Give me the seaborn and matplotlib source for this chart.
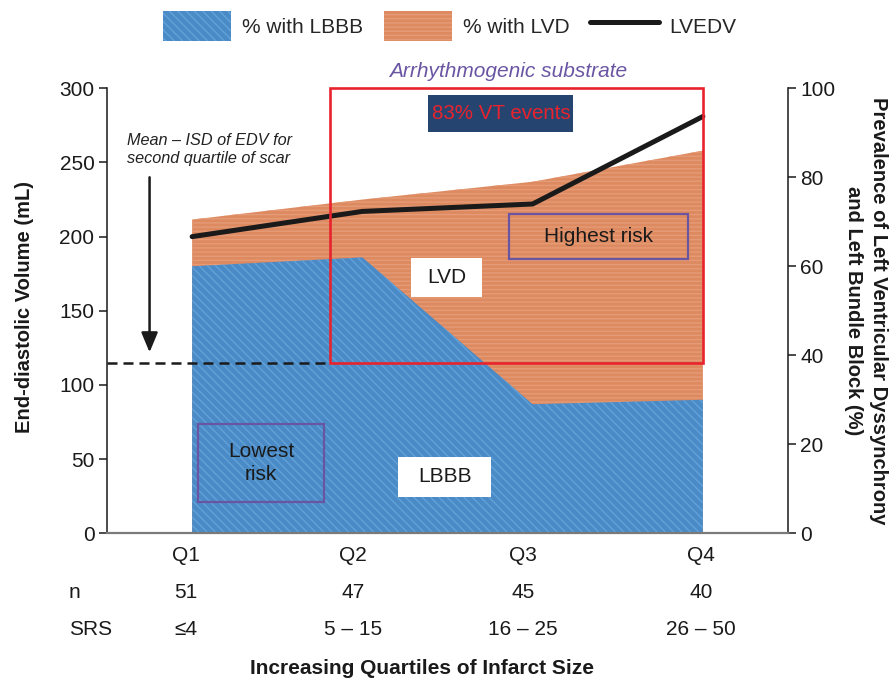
import numpy as np
import pandas as pd
import matplotlib
matplotlib.use("Agg")
import matplotlib.pyplot as plt
import matplotlib.transforms as mtransforms
from matplotlib.patches import Rectangle, Patch
from matplotlib.lines import Line2D
import seaborn as sns

# ---- data ----
quartiles = ["Q1", "Q2", "Q3", "Q4"]
n_patients = ["51", "47", "45", "40"]
srs_ranges = ["\u22644", "5 \u2013 15", "16 \u2013 25", "26 \u2013 50"]
lbbb_pct = [60, 62, 29, 30]          # % with LBBB (right axis)
lvd_pct = [70.5, 75, 79, 86]         # % with LVD (right axis)
lvedv_ml = [200, 217, 222, 281]      # LVEDV (left axis)
edv_threshold = 115                  # mean - 1SD of EDV, second quartile of scar
vt_events_pct = 83

# ---- style ----
sns.set_theme(style="white")
plt.rcParams["font.family"] = ["Liberation Sans", "DejaVu Sans"]
plt.rcParams["hatch.linewidth"] = 1.0

BLUE = "#4a8bc7"
BLUE_HATCH = "#62a2d9"
ORANGE = "#de8a60"
ORANGE_HATCH = "#e59b77"
RED = "#e8232d"
PURPLE = "#6a55a3"
NAVY = "#254470"
INK = "#1a1a1a"

df = pd.DataFrame({
    "x": np.arange(len(quartiles)),
    "LVEDV": lvedv_ml,
    "LBBB": lbbb_pct,
    "LVD": lvd_pct,
})

fig = plt.figure(figsize=(8.93, 6.83), dpi=100)
ax = fig.add_axes([107 / 893, 1 - 533.3 / 683, (788 - 107) / 893, 445 / 683])
ax2 = ax.twinx()

# prevalence areas on the right-hand axis
ax2.fill_between(df["x"], 0, df["LVD"], facecolor=ORANGE, edgecolor=ORANGE_HATCH,
                 hatch="----", linewidth=0)
ax2.fill_between(df["x"], 0, df["LBBB"], facecolor=BLUE, edgecolor=BLUE_HATCH,
                 hatch="\\\\\\\\", linewidth=0)
ax2.set_ylim(0, 100)

# volume line on the left-hand axis, drawn above the areas
ax.set_zorder(ax2.get_zorder() + 1)
ax.patch.set_visible(False)
sns.lineplot(data=df, x="x", y="LVEDV", ax=ax, color=INK, linewidth=3.6,
             legend=False, solid_joinstyle="miter")
ax.set_xlim(-0.5, 3.5)
ax.set_ylim(0, 300)
ax.set_xlabel("")
ax.set_ylabel("")
ax.set_xticks([])
ax.set_yticks([0, 50, 100, 150, 200, 250, 300])
ax2.set_yticks([0, 20, 40, 60, 80, 100])

for s in ["top", "right"]:
    ax.spines[s].set_visible(False)
ax.spines["left"].set_color(INK)
ax.spines["left"].set_linewidth(1.1)
ax.spines["bottom"].set_color("#7a7a7a")
ax.spines["bottom"].set_linewidth(1.6)
for s in ["top", "left", "bottom"]:
    ax2.spines[s].set_visible(False)
ax2.spines["right"].set_color(INK)
ax2.spines["right"].set_linewidth(1.1)

ax.tick_params(axis="y", left=True, direction="out", length=6, width=1.1,
               labelsize=15, pad=3, colors=INK)
ax2.tick_params(axis="y", right=True, direction="out", length=6, width=1.1,
                labelsize=15, pad=3, colors=INK)

# threshold line, arrow and note
x_box_left = 0.81
ax.plot([-0.5, x_box_left], [edv_threshold, edv_threshold], color=INK, lw=1.8,
        linestyle=(0, (4, 2.4)), clip_on=False)
ax.annotate("", xy=(-0.25, 122), xytext=(-0.25, 240),
            arrowprops=dict(arrowstyle="-|>,head_length=0.6,head_width=0.25", lw=1.8,
                            color=INK, mutation_scale=20, shrinkA=0, shrinkB=0))
ax.text(-0.382, 258.7, "Mean \u2013 ISD of EDV for\nsecond quartile of scar",
        fontsize=11.7, style="italic", ha="left", va="center", color="#222222",
        linespacing=1.2)

# arrhythmogenic substrate box
ax.add_patch(Rectangle((x_box_left, edv_threshold), 3.0 - x_box_left, 300 - edv_threshold,
                       fill=False, edgecolor=RED, lw=1.9, clip_on=False, zorder=5))
ax.text(1.856, 311, "Arrhythmogenic substrate", fontsize=15, style="italic",
        color=PURPLE, ha="center", va="center")
ax.add_patch(Rectangle((1.386, 270.5), 0.851, 25, facecolor=NAVY, edgecolor="none", zorder=5))
ax.text(1.815, 283, f"{vt_events_pct}% VT events", fontsize=14.8, color=RED,
        ha="center", va="center", zorder=6)

# risk boxes
ax.add_patch(Rectangle((1.861, 184.9), 1.052, 30.4, fill=False, edgecolor=PURPLE,
                       lw=1.6, zorder=5))
ax.text(2.387, 200.1, "Highest risk", fontsize=15, color=INK, ha="center",
        va="center", zorder=6)
ax.add_patch(Rectangle((0.035, 21.1), 0.74, 52.6, fill=False, edgecolor=PURPLE,
                       lw=1.6, zorder=5))
ax.text(0.405, 47.4, "Lowest\nrisk", fontsize=15, color=INK, ha="center",
        va="center", linespacing=1.3, zorder=6)

# area labels
ax.add_patch(Rectangle((1.286, 159.1), 0.417, 26.3, facecolor="white",
                       edgecolor="none", zorder=5))
ax.text(1.494, 172.3, "LVD", fontsize=15, color=INK, ha="center", va="center", zorder=6)
ax.add_patch(Rectangle((1.209, 24.5), 0.547, 26.9, facecolor="white",
                       edgecolor="none", zorder=5))
ax.text(1.483, 38, "LBBB", fontsize=15, color=INK, ha="center", va="center", zorder=6)

# category rows under the axis
label_x = [-0.035, 0.944, 1.942, 2.99]
trans = mtransforms.blended_transform_factory(ax.transData, ax.transAxes)
for lx, q, n, srs in zip(label_x, quartiles, n_patients, srs_ranges):
    ax.text(lx, -0.049, q, transform=trans, fontsize=15, ha="center", va="center", color=INK)
    ax.text(lx, -0.134, n, transform=trans, fontsize=15, ha="center", va="center", color=INK)
    ax.text(lx, -0.217, srs, transform=trans, fontsize=15, ha="center", va="center", color=INK)
ax.text(-0.056, -0.134, "n", transform=ax.transAxes, fontsize=15, ha="left",
        va="center", color=INK)
ax.text(-0.056, -0.217, "SRS", transform=ax.transAxes, fontsize=15, ha="left",
        va="center", color=INK)
ax.text(0.5 * (247 + 597) / 893, 1 - 668 / 683, "Increasing Quartiles of Infarct Size",
        transform=fig.transFigure, fontsize=15, fontweight="bold", ha="center",
        va="center", color=INK)

# axis titles
fig.text(25 / 893, 1 - 307 / 683, "End-diastolic Volume (mL)", rotation=90,
         fontsize=14.5, fontweight="bold", ha="center", va="center", color=INK)
fig.text(866 / 893, 1 - 310.7 / 683,
         "Prevalence of Left Ventricular Dyssynchrony\nand Left Bundle Block (%)",
         rotation=270, fontsize=14.5, fontweight="bold", ha="center", va="center",
         multialignment="center", linespacing=1.35, color=INK)

# legend
handles = [
    Patch(facecolor=BLUE, edgecolor=BLUE_HATCH, hatch="\\\\\\\\", linewidth=0),
    Patch(facecolor=ORANGE, edgecolor=ORANGE_HATCH, hatch="----", linewidth=0),
    Line2D([], [], color=INK, lw=3.6),
]
fig.legend(handles, ["% with LBBB", "% with LVD", "LVEDV"], ncol=3,
           loc="center", bbox_to_anchor=(449.5 / 893, 1 - 26 / 683),
           frameon=False, fontsize=15, handlelength=3.3, handleheight=1.9,
           handletextpad=0.5, columnspacing=1.0, borderaxespad=0, borderpad=0)

fig.savefig("out.png", dpi=100, facecolor="white")
